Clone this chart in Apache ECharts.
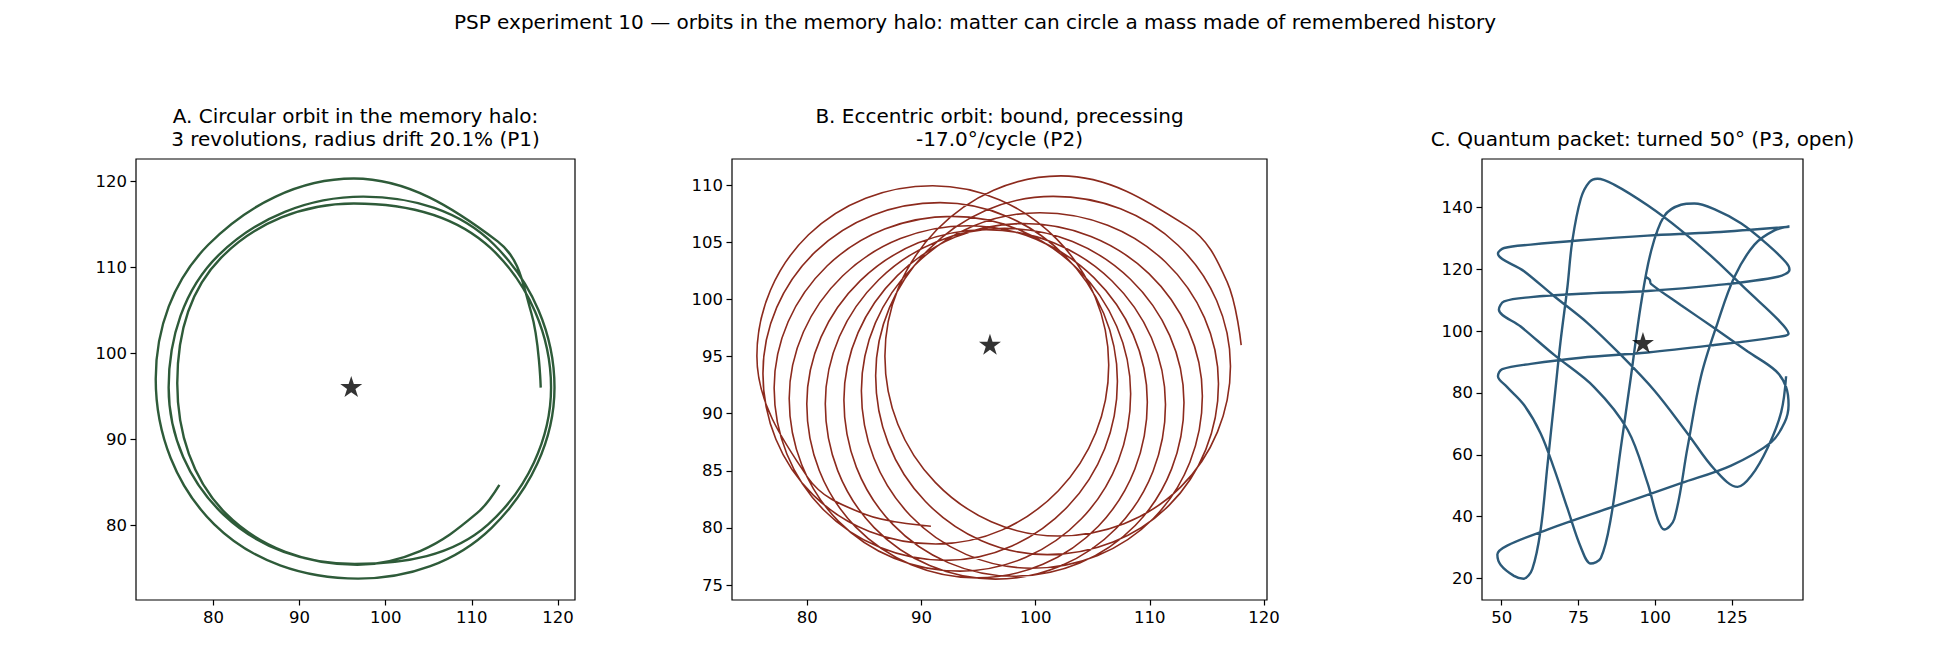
<!DOCTYPE html>
<html>
<head>
<meta charset="utf-8">
<script src="https://cdn.jsdelivr.net/npm/echarts@6/dist/echarts.min.js"></script>
<style>
html,body{margin:0;padding:0;background:#fff;}
#chart{width:1950px;height:650px;}
</style>
</head>
<body>
<div id="chart"></div>
<script>
// ---------- data ----------
const starX = [96];
const starY = [96];

// Panel A: circular orbit, 3 revolutions
const aX = [118, 116.9, 113.0, 96.3, 79.4, 73.3, 80.1, 96.8, 112.3,
            119.6, 112.6, 97.4, 80.6, 74.8, 81.2, 96.4, 111.9,
            119.2, 112.2, 96.3, 80.9, 75.8, 81.4, 96.7, 104.0, 110.6, 113.2];
const aY = [96, 104.7, 113.0, 120.3, 112.6, 97.0, 80.1, 73.8, 79.7,
            96.0, 112.6, 118.2, 111.4, 96.0, 81.2, 75.5, 80.1,
            96.0, 112.2, 117.4, 111.1, 96.5, 81.4, 75.4, 77.0, 81.4, 84.7];

// Panel B: eccentric precessing orbit (points at the right/top/left/bottom and diagonal of each loop)
const bX = [118.00, 116.75, 113.30, 102.22, 91.34, 86.80, 91.21, 101.95, 112.67,
            117.06, 112.47, 101.54, 90.60, 85.99, 90.33, 101.01, 111.68,
            116.01, 111.37, 100.38, 89.39, 84.74, 89.04, 99.68, 110.31,
            114.60, 109.92, 98.91, 87.89, 83.21, 87.49, 98.10, 108.72,
            112.99, 108.30, 97.28, 86.26, 81.58, 85.86, 96.48, 107.09,
            111.37, 106.69, 95.67, 84.65, 79.96, 84.25, 94.87, 105.49,
            109.78, 105.10, 94.09, 83.09, 78.42, 82.72, 93.37, 104.01,
            108.32, 103.68, 92.70, 81.73, 77.10, 81.44, 92.12, 102.81,
            107.16, 102.56, 91.63, 80.70, 76.12, 80.51, 91.25, 101.99,
            106.40, 101.85, 90.98, 80.11, 75.59, 80.04, 84.99, 90.83];
const bY = [96.00, 101.58, 106.40, 110.82, 106.10, 95.04, 83.99, 79.29, 83.55,
            94.15, 104.75, 109.03, 104.35, 93.33, 82.33, 77.66, 81.97,
            92.62, 103.28, 107.60, 102.98, 92.02, 81.07, 76.47, 80.83,
            91.54, 102.26, 106.65, 102.09, 91.20, 80.31, 75.77, 80.21,
            90.99, 101.77, 106.23, 101.73, 90.87, 80.03, 75.52, 79.99,
            90.80, 101.62, 106.11, 101.65, 90.85, 80.07, 75.63, 80.15,
            91.03, 101.91, 106.46, 102.06, 91.33, 80.60, 76.22, 80.80,
            91.74, 102.67, 107.28, 102.93, 92.25, 81.57, 77.16, 81.87,
            92.85, 103.83, 108.48, 104.17, 93.53, 82.89, 78.59, 83.26,
            94.27, 105.28, 109.96, 105.67, 95.05, 84.43, 81.22, 80.15];

// Panel C: quantum packet path
const cX = [96.9, 98.2, 98.6, 108.4, 119.2, 130.1, 139.3, 142.6, 143.4, 142.1, 137.7,
            124.7, 108.4, 86.6, 64.9, 51.8, 48.6, 49.7, 54.0, 57.1,
            60.0, 62.7, 64.9, 67.1, 69.2, 71.4, 73.0, 75.8, 78.5, 81.2,
            86.6, 97.5, 108.4, 119.2, 130.1, 139.9, 143.4,
            138.8, 119.2, 97.5, 75.8, 59.5, 50.2, 48.8,
            51.8, 57.3, 62.7, 67.1, 71.4, 75.8, 79.0,
            82.3, 85.5, 88.8, 92.1, 95.3, 98.6, 102.9, 108.4, 112.7,
            119.2, 127.9, 136.6, 142.6, 143.7,
            139.9, 119.2, 97.5, 75.8, 59.5, 50.8, 49.1,
            56.2, 67.1, 80.1, 91.0, 97.5, 100.8, 102.9,
            106.2, 110.5, 114.9, 120.3, 125.8, 132.3, 138.8, 143.7,
            119.2, 97.5, 75.8, 59.5, 50.8, 48.8,
            57.3, 67.1, 77.9, 88.8, 99.7, 110.5, 119.2, 126.8,
            131.2, 136.6, 141.0, 142.6];
const cY = [117.6, 116.6, 115.3, 108.4, 101.0, 93.4, 87.1, 81.9, 76.1, 70.4, 64.0,
            56.5, 50.8, 43.3, 35.8, 30.6, 27.7, 24.3, 20.8, 19.9,
            23.1, 35.8, 56.5, 77.3, 96.9, 114.2, 129.2, 143.0, 148.2, 149.3,
            147.4, 140.7, 132.6, 123.4, 113.0, 103.8, 99.2,
            98.0, 95.5, 93.1, 91.4, 89.4, 87.7, 85.4,
            81.9, 76.1, 66.9, 55.4, 42.7, 30.0, 24.8,
            26.6, 39.2, 62.3, 85.4, 108.4, 125.7, 137.2, 140.9, 141.3,
            139.5, 134.9, 128.0, 122.2, 119.9,
            117.6, 114.8, 113.0, 112.1, 111.0, 109.6, 107.0,
            101.5, 92.3, 81.9, 68.1, 50.8, 39.2, 35.8,
            39.2, 62.3, 85.4, 102.7, 117.6, 128.0, 132.6, 133.8,
            132.0, 130.9, 129.4, 128.0, 126.9, 125.1,
            119.4, 111.3, 102.7, 92.3, 80.8, 66.9, 55.4, 49.6,
            53.1, 62.3, 73.8, 85.4];

// axis ranges and tick labels
const aRange = {x: [71.01, 121.98], y: [71.31, 122.57]};
const bRange = {x: [73.41, 120.26], y: [73.69, 112.30]};
const cRange = {x: [43.6, 148.1], y: [13.0, 155.7]};
const aTicksX = [80, 90, 100, 110, 120];
const aTicksY = [80, 90, 100, 110, 120];
const bTicksX = [80, 90, 100, 110, 120];
const bTicksY = [75, 80, 85, 90, 95, 100, 105, 110];
const cTicksX = [50, 75, 100, 125];
const cTicksY = [20, 40, 60, 80, 100, 120, 140];

const suptitle = 'PSP experiment 10 \u2014 orbits in the memory halo: matter can circle a mass made of remembered history';
const titleA = 'A. Circular orbit in the memory halo:\n3 revolutions, radius drift 20.1% (P1)';
const titleB = 'B. Eccentric orbit: bound, precessing\n-17.0\u00b0/cycle (P2)';
const titleC = 'C. Quantum packet: turned 50\u00b0 (P3, open)';

// ---------- chart ----------
const FONT = 'DejaVu Sans, Verdana, sans-serif';
const pairs = (xs, ys) => xs.map((x, i) => [x, ys[i]]);
const STAR = 'path://M50,0L61.23,34.55L97.55,34.55L68.17,55.9L79.39,90.45L50,69.1L20.61,90.45L31.83,55.9L2.45,34.55L38.77,34.55Z';

const grids = [
  {left: 136, top: 159, width: 439, height: 441},
  {left: 732, top: 159, width: 535, height: 441},
  {left: 1482, top: 159, width: 321, height: 441}
].map(g => Object.assign(g, {show: true, borderColor: '#000', borderWidth: 1.2, backgroundColor: 'transparent'}));

function axisFor(i, range, ticks) {
  return {
    type: 'value', gridIndex: i, min: range[0], max: range[1],
    axisLine: {show: false},
    splitLine: {show: false},
    axisTick: {show: true, length: 5.5, lineStyle: {color: '#000', width: 1.2}, customValues: ticks},
    axisLabel: {show: true, customValues: ticks, color: '#000', fontSize: 16.5, fontFamily: FONT, margin: 9}
  };
}

function orbit(i, xs, ys, color, width, smooth) {
  return {
    type: 'line', xAxisIndex: i, yAxisIndex: i, data: pairs(xs, ys),
    showSymbol: false, symbol: 'none', smooth: smooth, clip: true,
    lineStyle: {color: color, width: width}, z: 2
  };
}
function star(i) {
  return {
    type: 'scatter', xAxisIndex: i, yAxisIndex: i, data: pairs(starX, starY),
    symbol: STAR, symbolSize: [22, 21], symbolOffset: [0, -1],
    itemStyle: {color: '#000'}, z: 5
  };
}
const titleStyle = {fontFamily: FONT, fontSize: 20, fontWeight: 'normal', color: '#000', lineHeight: 23.6, align: 'center'};

const chart = echarts.init(document.getElementById('chart'), null, {renderer: 'svg'});
chart.setOption({
  animation: false,
  backgroundColor: '#fff',
  grid: grids,
  xAxis: [axisFor(0, aRange.x, aTicksX), axisFor(1, bRange.x, bTicksX), axisFor(2, cRange.x, cTicksX)],
  yAxis: [axisFor(0, aRange.y, aTicksY), axisFor(1, bRange.y, bTicksY), axisFor(2, cRange.y, cTicksY)],
  title: [
    {text: suptitle, left: 975, top: 10, padding: 0, textAlign: 'center', textStyle: Object.assign({}, titleStyle, {lineHeight: 24})},
    {text: titleA, left: 355.5, top: 104, padding: 0, textAlign: 'center', textStyle: titleStyle},
    {text: titleB, left: 999.5, top: 104, padding: 0, textAlign: 'center', textStyle: titleStyle},
    {text: titleC, left: 1642.5, top: 127.5, padding: 0, textAlign: 'center', textStyle: titleStyle}
  ],
  series: [
    orbit(0, aX, aY, '#2e5b39', 2.4, 0.375),
    orbit(1, bX, bY, '#8c2a1d', 1.6, 0.375),
    orbit(2, cX, cY, '#2c5a79', 2.4, 0.35),
    star(0), star(1), star(2)
  ]
});
</script>
</body>
</html>
